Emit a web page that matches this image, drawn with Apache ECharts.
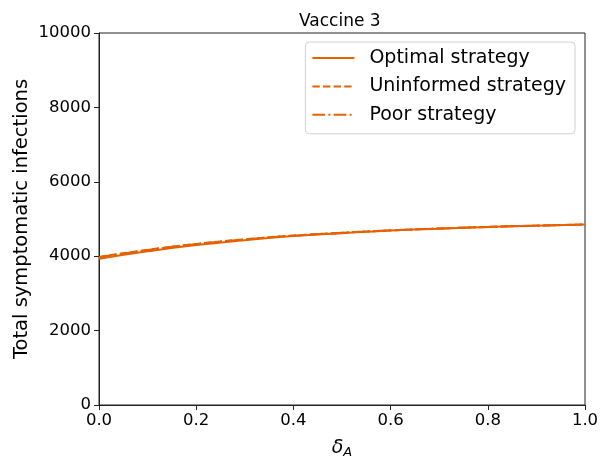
<!DOCTYPE html>
<html><head><meta charset="utf-8">
<script src="https://cdn.jsdelivr.net/npm/echarts@6/dist/echarts.min.js"></script>
<style>html,body{margin:0;padding:0;background:#fff}#c{width:600px;height:461px}</style>
</head><body><div id="c"></div>
<script>
const deltaA = [0, 0.1, 0.2, 0.3, 0.4, 0.5, 0.6, 0.7, 0.8, 0.9, 1.0];
const optimal = [3930, 4130, 4300, 4430, 4540, 4620, 4690, 4740, 4785, 4820, 4850];
const uninformed = [3980, 4170, 4330, 4455, 4555, 4630, 4695, 4745, 4788, 4822, 4852];
const poor = [3970, 4165, 4325, 4450, 4552, 4628, 4694, 4744, 4787, 4821, 4851];
const yTicks = [0, 2000, 4000, 6000, 8000, 10000];
const COLOR = '#e66101';
const F = 'DejaVu Sans';
const chart = echarts.init(document.getElementById('c'));
const pair = a => deltaA.map((x, i) => [x, a[i]]);
chart.setOption({
  animation: false,
  title: { text: 'Vaccine 3', left: 294, top: 8,
    textStyle: { fontFamily: F, fontSize: 17, fontWeight: 'normal', color: '#000' } },
  grid: { left: 99, right: 15, top: 33, bottom: 56, show: true, borderColor: '#222', borderWidth: 1,
    outerBoundsMode: 'none', containLabel: false },
  legend: {
    right: 25, top: 42, orient: 'vertical', itemWidth: 42, itemHeight: 14, itemGap: 0.4,
    padding: [2, 9, 5, 6], borderColor: '#d0d0d0', borderWidth: 1, borderRadius: 4,
    itemStyle: { opacity: 0 },
    textStyle: { fontFamily: F, fontSize: 19, color: '#000', lineHeight: 28, padding: [0, 0, 0, 10] },
    data: ['Optimal strategy', 'Uninformed strategy', 'Poor strategy']
  },
  xAxis: {
    type: 'value', min: 0, max: 1, interval: 0.2,
    name: '{d|δ}{s|A}', nameLocation: 'middle', nameGap: 32, nameMoveOverlap: false,
    nameTextStyle: { rich: {
      d: { fontFamily: F, fontSize: 19, fontStyle: 'italic', color: '#000' },
      s: { fontFamily: F, fontSize: 13, fontStyle: 'italic', color: '#000', verticalAlign: 'bottom', padding: [9, 0, 0, 0] } } },
    axisLine: { lineStyle: { color: '#222' } },
    axisTick: { show: true, length: 5, inside: false, lineStyle: { color: '#222' } },
    axisLabel: { fontFamily: F, fontSize: 16.5, color: '#000', formatter: v => v.toFixed(1), margin: 7 },
    splitLine: { show: false }
  },
  yAxis: {
    type: 'value', min: 0, max: 10000, interval: 2000,
    name: 'Total symptomatic infections', nameLocation: 'middle', nameGap: 67, nameMoveOverlap: false,
    nameTextStyle: { fontFamily: F, fontSize: 19.5, color: '#000' },
    axisLine: { show: true, lineStyle: { color: '#222' } },
    axisTick: { show: true, length: 5, lineStyle: { color: '#222' } },
    axisLabel: { fontFamily: F, fontSize: 16.5, color: '#000', margin: 8,
      formatter: v => yTicks.includes(v) ? String(v) : '' },
    splitLine: { show: false }
  },
  series: [
    { name: 'Optimal strategy', type: 'line', data: pair(optimal), smooth: true, showSymbol: false, symbol: 'none',
      lineStyle: { color: COLOR, width: 2 }, itemStyle: { color: COLOR } },
    { name: 'Uninformed strategy', type: 'line', data: pair(uninformed), smooth: true, showSymbol: false, symbol: 'none',
      lineStyle: { color: COLOR, width: 2, type: [7.4, 3.2] }, itemStyle: { color: COLOR } },
    { name: 'Poor strategy', type: 'line', data: pair(poor), smooth: true, showSymbol: false, symbol: 'none',
      lineStyle: { color: COLOR, width: 2, type: [12.8, 3.2, 2, 3.2] }, itemStyle: { color: COLOR } }
  ]
});
</script></body></html>
